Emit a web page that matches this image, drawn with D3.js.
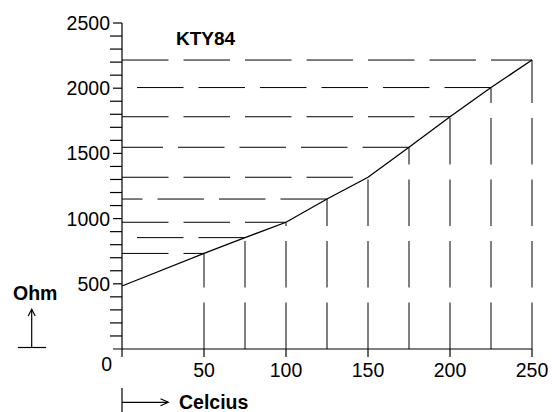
<!DOCTYPE html>
<html>
<head>
<meta charset="utf-8">
<script src="https://cdn.jsdelivr.net/npm/d3@7"></script>
<style>
  html, body { margin: 0; padding: 0; background: #fff; }
  svg { display: block; }
  text { font-family: "Liberation Sans", Arial, Helvetica, sans-serif; fill: #000; }
</style>
</head>
<body>
<script>
// KTY84 resistance vs temperature
const temps = [0, 50, 75, 100, 125, 150, 175, 200, 225, 250];
const ohms  = [483, 733, 854, 972, 1150, 1317, 1547, 1781, 2005, 2216];

const xTickValues = [50, 100, 150, 200, 250];
const xTickLabels = ["50", "100", "150", "200", "250"];
const yMajorTicks = [500, 1000, 1500, 2000, 2500];
const yMajorLabels = ["500", "1000", "1500", "2000", "2500"];
const yMinorTicks = [100, 200, 300, 400, 600, 700, 800, 900, 1100, 1200, 1300, 1400,
                     1600, 1700, 1800, 1900, 2100, 2200, 2300, 2400];

const W = 552, H = 412;
const svg = d3.select("body").append("svg").attr("width", W).attr("height", H);
svg.append("rect").attr("width", W).attr("height", H).attr("fill", "#fff");

const x = d3.scaleLinear().domain([0, 250]).range([122, 532]);
const y = d3.scaleLinear().domain([0, 2500]).range([349, 23]);

const dash = "46.5,15";
const guides = svg.append("g").attr("stroke", "#000").attr("stroke-width", 1)
  .attr("fill", "none").attr("stroke-dasharray", dash);

temps.forEach((t, i) => {
  if (i === 0) return;
  const r = ohms[i];
  // vertical guide, from the axis up to the curve
  guides.append("path").attr("d", `M${x(t)},${y(0)}V${y(r)}`);
  // horizontal guide; alternate lines run from the curve back to the axis
  const d = (i % 2 === 0)
    ? `M${x(t)},${y(r)}H${x(0)}`
    : `M${x(0)},${y(r)}H${x(t)}`;
  guides.append("path").attr("d", d);
});

// curve
svg.append("path")
  .datum(temps.map((t, i) => [t, ohms[i]]))
  .attr("fill", "none").attr("stroke", "#000").attr("stroke-width", 1.3)
  .attr("d", d3.line().x(d => x(d[0])).y(d => y(d[1])));

// axes
const ax = svg.append("g").attr("stroke", "#000").attr("stroke-width", 1.2);
ax.append("line").attr("x1", x(0)).attr("x2", x(0)).attr("y1", y(2500)).attr("y2", y(0) + 8);
ax.append("line").attr("x1", x(0) - 9).attr("x2", x(250)).attr("y1", y(0)).attr("y2", y(0));

// y ticks
ax.selectAll(".ymin").data(yMinorTicks).join("line")
  .attr("x1", x(0) - 12).attr("x2", x(0)).attr("y1", d => y(d)).attr("y2", d => y(d));
ax.selectAll(".ymaj").data(yMajorTicks).join("line")
  .attr("x1", x(0) - 9).attr("x2", x(0)).attr("y1", d => y(d)).attr("y2", d => y(d));
// x ticks
ax.selectAll(".xt").data(xTickValues).join("line")
  .attr("x1", d => x(d)).attr("x2", d => x(d)).attr("y1", y(0)).attr("y2", y(0) + 8);

// tick labels
svg.selectAll(".yl").data(yMajorTicks).join("text")
  .attr("x", x(0) - 12).attr("y", d => y(d) + 7)
  .attr("text-anchor", "end").attr("font-size", 19.5)
  .text((d, i) => yMajorLabels[i]);
svg.selectAll(".xl").data(xTickValues).join("text")
  .attr("x", d => x(d)).attr("y", y(0) + 28)
  .attr("text-anchor", "middle").attr("font-size", 19.5)
  .text((d, i) => xTickLabels[i]);
svg.append("text").attr("x", x(0) - 10).attr("y", y(0) + 22)
  .attr("text-anchor", "end").attr("font-size", 19.5).text("0");

// title
svg.append("text").attr("x", 176).attr("y", 45)
  .attr("font-size", 19).attr("font-weight", "bold").text("KTY84");

// axis captions with arrows
const cap = svg.append("g").attr("stroke", "#000").attr("stroke-width", 1.2).attr("fill", "none");
cap.append("line").attr("x1", 18).attr("x2", 46).attr("y1", 347.5).attr("y2", 347.5);
cap.append("line").attr("x1", 31.7).attr("x2", 31.7).attr("y1", 347.5).attr("y2", 309.5);
cap.append("path").attr("d", "M28.2,316L31.7,309.3L35.2,316");
svg.append("text").attr("x", 13).attr("y", 299.5)
  .attr("font-size", 19.5).attr("font-weight", "bold").text("Ohm");

cap.append("line").attr("x1", 122).attr("x2", 122).attr("y1", 388).attr("y2", 412);
cap.append("line").attr("x1", 122).attr("x2", 168).attr("y1", 402.3).attr("y2", 402.3);
cap.append("path").attr("d", "M160.5,398.8L168.3,402.3L160.5,405.8");
svg.append("text").attr("x", 179).attr("y", 409)
  .attr("font-size", 19.5).attr("font-weight", "bold").text("Celcius");
</script>
</body>
</html>
